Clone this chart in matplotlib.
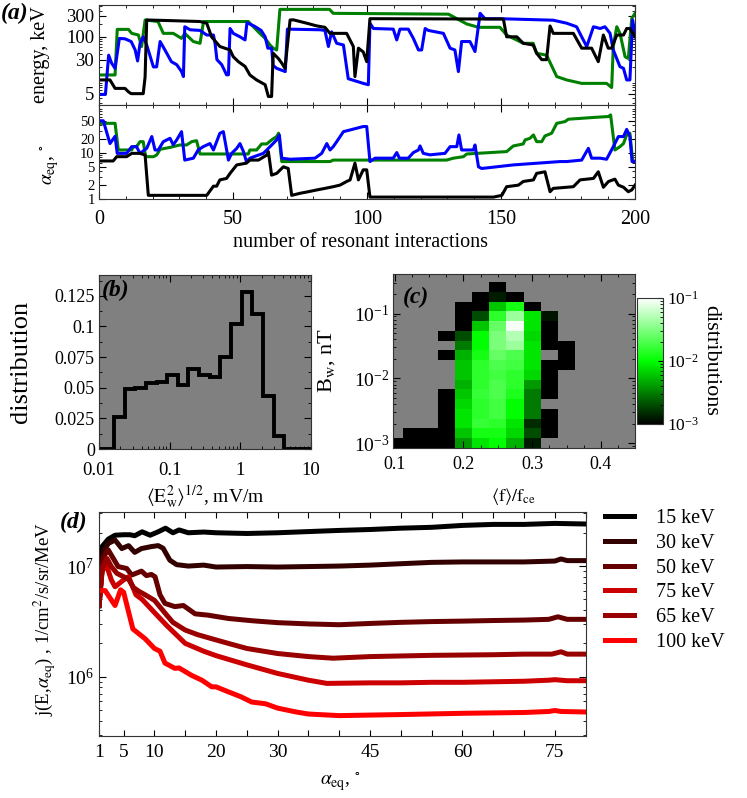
import numpy as np
import matplotlib
matplotlib.use("Agg")
import matplotlib.pyplot as plt
from matplotlib.colors import LogNorm, LinearSegmentedColormap
from matplotlib.ticker import FixedLocator, MultipleLocator, LogLocator, NullFormatter, FuncFormatter

plt.rcParams["font.family"] = ["Liberation Serif", "DejaVu Serif"]
plt.rcParams["mathtext.fontset"] = "stix"
plt.rcParams["font.size"] = 11

# ---- panel (a): energy / pitch angle along three trajectories ----
blue_n_E = [0, 2.4, 3.6, 4.7, 6, 7.6, 9.7, 12, 13.5, 14.4, 15.3, 16.5, 17.8, 20.3, 21.5, 22.8, 24.6, 27, 29,
            30.8, 31.5, 32, 34, 37.7, 40.2, 42.7, 43.3, 44, 45.8, 47.6, 48.3, 48.9, 50.1, 52.6, 54.5, 55.2, 58,
            60.5, 62, 63, 64.4, 65, 66.3, 69.5, 70.3, 82.5, 84.3, 85.6, 86.8, 88.7, 91.2, 93, 98.6, 100.5,
            101.1, 102.4, 109.8, 111.1, 112.3, 115.4, 117.3, 119.2, 120.4, 121.7, 122.9, 128.5, 131, 132.8,
            134.1, 135.3, 138.4, 140.3, 142.2, 144, 149.6, 169.5, 174.5, 178.2, 180.1, 182, 184.5, 187, 188.8,
            190.7, 191.9, 194.4, 195.7, 196.9, 198.1, 199.1, 200]
blue_E = [4.8, 4.8, 38, 25, 19, 92, 90, 78, 50, 28, 70, 100, 65, 20.5, 20.5, 78, 50, 27, 23,
          16, 12.3, 170, 145, 140, 110, 110, 71, 30, 23, 13.5, 13.5, 155, 120, 100, 85, 210, 175,
          140, 100, 55, 55, 22, 19, 16, 150, 145, 140, 60, 130, 71, 65, 11, 8.6, 8,
          205, 155, 150, 85, 150, 150, 92, 50, 50, 155, 140, 120, 55, 50,
          16, 78, 78, 46, 345, 260, 260, 240, 205, 170, 100, 60, 170, 155, 170,
          120, 50, 20.7, 19, 10.3, 10.3, 243, 120]

green_n_E = [0, 6, 6.8, 11, 12.2, 14.7, 15.9, 17.2, 22, 24, 27.7, 30.8, 32, 35.2, 37.7, 39, 55.7, 57.6, 60,
             62, 63.8, 65, 66.3, 67.5, 86, 87.4, 130.4, 137.2, 141.6, 149.6, 152.1, 158.3, 162, 163.3, 167,
             170.8, 174.5, 180.1, 189.4, 191.3, 191.9, 193.2, 194.4, 196.3, 197.5, 198.8, 200]
green_E = [13.4, 13.4, 148, 148, 120, 110, 60, 243, 224, 120, 120, 92, 120, 78, 71, 224, 224, 170, 120,
           92, 65, 55, 50, 425, 425, 345, 330, 197, 165, 165, 110, 71, 71, 42, 38,
           12.3, 10.3, 8.6, 8.6, 6.9, 60, 170, 120, 35, 32, 265, 345]

black_n_E = [0, 4.1, 6, 9.7, 11, 12, 16.5, 17.2, 17.8, 26.5, 37.7, 40.2, 42, 45.1, 48.9, 50.1, 52, 54.5,
             56.3, 58.8, 62, 63.2, 64.4, 65, 66.9, 68.2, 69.4, 71.3, 72.5, 77.5, 81.2, 84.3, 86.2, 92.4,
             94.9, 95.5, 96.8, 98.6, 99.9, 101.1, 150.9, 152.1, 155.9, 158.3, 162, 163.3, 165.2, 167, 168.3,
             169.5, 177, 180.1, 183.8, 186.3, 188.2, 190, 191.3, 193.2, 195.7, 196.9, 198.1, 200]
black_E = [10.3, 10.3, 6.6, 6.6, 5.5, 5, 5, 12, 243, 235, 224, 205, 100, 60, 50, 35, 27, 21,
           13.4, 10.3, 8, 4.3, 4.3, 42, 32, 25, 19, 243, 245, 205, 178, 165, 120, 120,
           60, 12.3, 55, 45, 27, 260, 255, 100, 100, 71, 65, 42, 30, 30, 177,
           120, 120, 55, 55, 27, 110, 55, 55, 110, 110, 155, 155, 100]

blue_n_a = [0, 1.6, 4.1, 6, 6.8, 10.3, 12.2, 14, 15.3, 17.8, 19.7, 20.9, 22.1, 24, 26.5, 27.7, 29, 30.8, 32,
            35.2, 37, 38.9, 41.4, 42.7, 45.1, 46.4, 48.3, 49.5, 51.4, 52.6, 53.9, 55, 56.3, 61.3, 62.6, 66.3,
            67.3, 68.2, 71.3, 80.6, 83.1, 85, 86.2, 87.4, 88.7, 91.2, 93.7, 98.6, 99.9, 101.1, 103, 109.8,
            111.1, 112.1, 115.4, 117.3, 119.2, 119.8, 121, 123.5, 129.1, 131, 133.5, 134.3, 135.3, 139.7,
            140.3, 141.6, 142.8, 154.6, 172, 174.5, 180.1, 182.6, 183.8, 187, 189.4, 191.9, 193.8, 195.7,
            196.9, 198.1, 198.9, 200]
blue_a = [50, 50, 16, 23, 9.8, 9.8, 13.7, 13.7, 9.8, 12.6, 22.7, 11.6, 11.6, 17.6, 20.8, 15, 19.2, 29, 7,
          7.7, 11.6, 13.7, 16, 11.6, 26.8, 29, 7, 9.8, 12.6, 16, 10.7, 6.5, 7.7, 9.8, 11.6, 19.2,
          24.6, 7.7, 7.3, 7.7, 9.8, 16, 11.6, 13.7, 17.6, 29, 31.6, 37.5, 37.5, 6.5, 7.7, 7.7,
          10.2, 7.7, 7.7, 10.2, 11.6, 14.2, 9.8, 9.1, 9.8, 13.7, 13.7, 24.6, 11.6, 11.6,
          14.9, 5.0, 4.6, 5.5, 6.5, 6.5, 7, 12.6, 7.7, 7.7, 7.3, 13.7, 22.7, 22.7,
          32.5, 22.7, 6.5, 6.5]

green_n_a = [0, 6, 7.2, 12.2, 12.8, 14, 15.3, 16.5, 17.4, 20.3, 21.5, 22.8, 26.5, 30.2, 32.7, 34.6, 36.4,
             37.7, 55.7, 56.3, 58.8, 60.7, 62.6, 64.4, 66.3, 67, 68.2, 86.2, 87.4, 129.7, 132.2, 136, 137.2,
             152.1, 154.6, 158.3, 159, 160.8, 162.1, 163.3, 165.2, 166.4, 168.9, 170.8, 173.9, 175.1, 184.5,
             190.1, 190.9, 192.5, 194.4, 195.7, 196.9, 198.1, 199.1, 200]
green_a = [44, 44, 11.6, 11.6, 13.7, 13.7, 17.6, 17.6, 8.3, 8.3, 9, 12, 13.2, 14.9, 14.9, 17.6, 18.5,
           9.5, 9.5, 11.6, 11.6, 15.7, 15.7, 19.2, 22.7, 26.8, 6.5, 6.5, 7, 7, 7.7, 8.3, 9.5,
           10.7, 14.2, 15.7, 19.2, 20.8, 24.6, 17.6, 17.6, 23.4, 26.8, 44, 48, 54, 59,
           61.8, 67, 11.6, 13.7, 16, 24.6, 26.8, 7, 6.5]

black_n_a = [0, 5.3, 6.6, 10.3, 12.2, 15.3, 17.2, 18.4, 40.2, 42.7, 43.9, 45.1, 47.6, 48.9, 51.4, 55, 56.3,
             59.5, 62.6, 63.2, 64.4, 66.3, 68.8, 70.6, 71.9, 75, 78.1, 81.2, 84.3, 87.4, 89.9, 92.4, 93.7,
             95.5, 96.8, 98.6, 99.9, 101.1, 147.2, 150.3, 152.1, 156.5, 158.3, 162.1, 163.3, 166.4, 168.3,
             169.5, 177, 179.5, 184.5, 186.3, 188.2, 190.1, 192.5, 193.8, 195.7, 197.5, 198.8, 200]
black_a = [6.7, 6.7, 8.3, 8.3, 9.8, 9.8, 9, 1.2, 1.2, 1.9, 1.9, 2.6, 2.8, 3.6, 5.5, 6, 7,
           7, 9, 10.7, 3.3, 3.6, 5.0, 4.6, 1.2, 1.33, 1.44, 1.57, 1.7, 1.85, 2.0, 2.4, 2.6,
           6, 2.6, 4.3, 4.3, 1.1, 1.1, 1.2, 1.85, 2.0, 2.4, 2.6, 3.6, 3.9, 1.44,
           1.7, 1.85, 2.6, 2.8, 3.9, 1.8, 2.4, 2.7, 2.0, 1.8, 1.44, 1.57, 2.0]

# ---- panel (b): wave amplitude distribution ----
ew_edges = [0.01, 0.0163, 0.0231, 0.0326, 0.0461, 0.0652, 0.0922, 0.1304, 0.1844, 0.2608, 0.3688,
            0.5216, 0.7376, 1.043, 1.475, 2.086, 2.95, 4.17, 10.0]
ew_dist = [0.0, 0.026, 0.049, 0.050, 0.054, 0.055, 0.060, 0.052, 0.065, 0.060, 0.059,
           0.075, 0.102, 0.128, 0.110, 0.043, 0.011, 0.0]

# ---- panel (c): (f/fce, Bw) distribution, NaN = empty ----
N = np.nan
f_centers = [0.1, 0.125, 0.15, 0.175, 0.2, 0.225, 0.25, 0.275, 0.3, 0.325, 0.35]
bw_centers = [1e-3 * 2 ** (k / 2) for k in range(17)]
fb_dist = [
    [1e-3, 1e-3, 1e-3, 1e-3, 4e-3, 8e-3, 1e-2, 5e-3, 1.3e-3, N, N],
    [N, 1e-3, 1e-3, 1e-3, 6e-3, 1.2e-2, 1.2e-2, 7e-3, 2e-3, 1e-3, N],
    [N, N, N, 1e-3, 8e-3, 1.6e-2, 1.5e-2, 8e-3, 1.5e-3, 1e-3, N],
    [N, N, N, 1e-3, 8e-3, 1.5e-2, 1.8e-2, 1e-2, 3e-3, 1e-3, N],
    [N, N, N, 1e-3, 7e-3, 1.5e-2, 1.8e-2, 1e-2, 3e-3, N, N],
    [N, N, N, 1e-3, 6e-3, 1.6e-2, 2e-2, 1.3e-2, 3e-3, 1e-3, N],
    [N, N, N, N, 5e-3, 1.5e-2, 2e-2, 1.5e-2, 4e-3, 1e-3, N],
    [N, N, N, N, 6e-3, 1.5e-2, 1.8e-2, 1.5e-2, 7e-3, 1e-3, N],
    [N, N, N, N, 6e-3, 1.5e-2, 2e-2, 1.8e-2, 8e-3, 1e-3, 1e-3],
    [N, N, N, 1e-3, 5e-3, 1.2e-2, 2.5e-2, 2e-2, 8e-3, N, 1e-3],
    [N, N, N, N, 3e-3, 1e-2, 3e-2, 4e-2, 8e-3, 1e-3, 1e-3],
    [N, N, N, 1e-3, 2e-3, 1e-2, 3e-2, 5e-2, 7e-3, 1e-3, N],
    [N, N, N, N, 1e-3, 6e-3, 2.5e-2, 9e-2, 8e-3, 1e-3, N],
    [N, N, N, N, 1e-3, 2e-3, 1.5e-2, 4e-2, 8e-3, 1.2e-3, N],
    [N, N, N, N, 1e-3, 1e-3, 6e-3, 1.2e-2, 1e-3, N, N],
    [N, N, N, N, N, 1e-3, 1.3e-3, 1e-3, N, N, N],
    [N, N, N, N, N, N, 1e-3, N, N, N, N],
]

# ---- panel (d): pitch-angle distributions ----
energies = ["15 keV", "30 keV", "50 keV", "75 keV", "65 keV", "100 keV"]
e_colors = ["#000000", "#330000", "#660000", "#cc0000", "#990000", "#ff0000"]
a15 = [1, 1.5, 2.5, 3.6, 5, 6, 6.8, 8, 9.3, 10.6, 11.8, 13, 14, 15.5, 18, 20, 25, 30, 35, 40, 45, 50, 55,
       60, 65, 70, 75, 80]
j15 = [4.4e6, 1.5e7, 1.75e7, 1.9e7, 1.92e7, 1.92e7, 1.88e7, 2.04e7, 1.9e7, 2.04e7, 2.2e7, 2.0e7, 2.12e7,
       2.0e7, 2.03e7, 2.0e7, 1.97e7, 2.0e7, 2.05e7, 2.1e7, 2.14e7, 2.2e7, 2.24e7, 2.33e7, 2.38e7, 2.38e7,
       2.43e7, 2.4e7]
a30 = [1, 1.7, 2.5, 3.6, 4.7, 5.8, 6.8, 7.9, 9.5, 10.6, 11.4, 12.5, 13.6, 15.5, 18, 20, 25, 30, 35, 40, 45,
       50, 55, 60, 65, 70, 75, 76, 77, 80]
j30 = [4.4e6, 1.35e7, 1.6e7, 1.72e7, 1.44e7, 1.53e7, 1.33e7, 1.44e7, 1.5e7, 1.53e7, 1.45e7, 1.13e7,
       1.03e7, 1.0e7, 1.02e7, 0.98e7, 0.99e7, 0.98e7, 0.99e7, 1.0e7, 1.02e7, 1.05e7, 1.08e7, 1.09e7, 1.09e7,
       1.09e7, 1.11e7, 1.16e7, 1.12e7, 1.12e7]
a50 = [1, 1.7, 2.5, 4.1, 5.5, 6.3, 7.9, 8.7, 9.5, 10.1, 10.9, 11.7, 13.3, 14.7, 16.6, 18.7, 22, 26, 30, 35,
       40, 45, 50, 55, 60, 65, 70, 74, 75.5, 77, 80]
j50 = [4.4e6, 1.21e7, 1.4e7, 9.9e6, 9.5e6, 8.3e6, 9e6, 8.2e6, 8.4e6, 8e6, 5.5e6, 4.6e6, 4.3e6, 4.4e6,
       3.7e6, 3.6e6, 3.36e6, 3.2e6, 3.08e6, 3.0e6, 2.95e6, 3.03e6, 3.1e6, 3.15e6, 3.18e6, 3.22e6, 3.25e6,
       3.3e6, 3.48e6, 3.3e6, 3.3e6]
a75 = [1, 1.5, 2.2, 3, 3.6, 5, 5.8, 7, 8, 10, 12, 15, 18, 20, 25, 30, 35, 38, 45, 50, 55, 60, 65, 70, 74,
       75, 77, 80]
j75 = [4.4e6, 9e6, 1.02e7, 7.5e6, 6.5e6, 7.5e6, 8e6, 5.5e6, 5e6, 3.8e6, 2.9e6, 2e6, 1.7e6, 1.55e6,
       1.28e6, 1.07e6, 9.3e5, 8.7e5, 8.8e5, 8.8e5, 8.9e5, 8.9e5, 9e5, 9.1e5, 9.3e5, 9.4e5, 9.2e5, 9.2e5]
a65 = [1, 1.5, 2.3, 3, 3.9, 5, 5.8, 6.6, 7.5, 8.5, 10, 11, 12, 13, 15, 17, 20, 22, 25, 30, 35, 39, 45, 50,
       55, 60, 65, 70, 74.5, 76, 77, 80]
j65 = [4.4e6, 9.5e6, 1.17e7, 9.9e6, 8.6e6, 8.0e6, 7.6e6, 6.4e6, 5.9e6, 5.5e6, 4.9e6, 4.2e6, 3.6e6,
       3.1e6, 2.64e6, 2.4e6, 2.15e6, 2.0e6, 1.8e6, 1.62e6, 1.52e6, 1.47e6, 1.52e6, 1.54e6, 1.56e6, 1.57e6,
       1.58e6, 1.6e6, 1.6e6, 1.68e6, 1.6e6, 1.6e6]
a100 = [1, 2, 3.6, 4.5, 5, 6.5, 8.5, 10, 10.9, 11.7, 13.3, 14, 16, 17.7, 19.3, 20, 22, 24, 25.8, 28, 30, 33,
        35, 40, 45, 50, 60, 70, 74, 75, 76, 80]
j100 = [6e6, 6e6, 4.4e6, 6.1e6, 5.8e6, 2.7e6, 2.2e6, 1.8e6, 1.7e6, 1.33e6, 1.19e6, 1.2e6, 1.03e6, 9.3e5,
        8.1e5, 8.1e5, 7.3e5, 6.6e5, 5.9e5, 5.7e5, 5.2e5, 4.8e5, 4.6e5, 4.45e5, 4.5e5, 4.55e5, 4.67e5,
        4.75e5, 4.85e5, 4.95e5, 4.85e5, 4.8e5]
d_alpha = [a15, a30, a50, a75, a65, a100]
d_flux = [j15, j30, j50, j75, j65, j100]


def style_ticks(ax, size=10):
    ax.tick_params(which="both", direction="in", top=True, right=True, labelsize=size)
    ax.tick_params(which="major", length=5)
    ax.tick_params(which="minor", length=2.5)
    for s in ax.spines.values():
        s.set_color("#333333")


def gfmt(v, p):
    return f"{v:g}"


def place_ylabel(ax, text, xc, yc, size, rot=90):
    ax.set_ylabel(text, fontsize=size, rotation=rot, va="center", ha="center")
    ax.yaxis.set_label_coords(xc, yc)


def place_xlabel(ax, text, xc, yc, size):
    ax.set_xlabel(text, fontsize=size, va="center", ha="center")
    ax.xaxis.set_label_coords(xc, yc)


W, H = 747, 798
fig = plt.figure(figsize=(W / 100, H / 100), dpi=100)


def box(x0, y0, x1, y1):
    return [x0 / W, 1 - y1 / H, (x1 - x0) / W, (y1 - y0) / H]


# (a) top: energy
ax1 = fig.add_axes(box(99, 5, 635, 105))
ax1.plot(green_n_E, green_E, color="#008000", lw=2.2)
ax1.plot(blue_n_E, blue_E, color="#0000ff", lw=2.2)
ax1.plot(black_n_E, black_E, color="black", lw=2.2)
ax1.set_yscale("log")
ax1.set_xlim(0, 200)
ax1.set_ylim(2.75, 535)
ax1.yaxis.set_major_locator(FixedLocator([5, 30, 100, 300]))
ax1.yaxis.set_major_formatter(FuncFormatter(gfmt))
ax1.yaxis.set_minor_formatter(NullFormatter())
ax1.xaxis.set_major_locator(MultipleLocator(50))
ax1.xaxis.set_minor_locator(MultipleLocator(10))
ax1.set_xticklabels([])
style_ticks(ax1, 13.5)
place_ylabel(ax1, "energy, keV", -0.110, 0.5, 14.5)

# (a) bottom: pitch angle
ax2 = fig.add_axes(box(99, 105, 635, 199))
ax2.plot(green_n_a, green_a, color="#008000", lw=2.2)
ax2.plot(blue_n_a, blue_a, color="#0000ff", lw=2.2)
ax2.plot(black_n_a, black_a, color="black", lw=2.2)
ax2.set_yscale("log")
ax2.set_xlim(0, 200)
ax2.set_ylim(1, 110)
ax2.yaxis.set_major_locator(FixedLocator([1, 2, 5, 10, 20, 50]))
ax2.yaxis.set_major_formatter(FuncFormatter(gfmt))
ax2.yaxis.set_minor_formatter(NullFormatter())
ax2.xaxis.set_major_locator(MultipleLocator(50))
ax2.xaxis.set_minor_locator(MultipleLocator(10))
style_ticks(ax2, 10.5)
ax2.tick_params(axis="y", pad=3)
ax2.tick_params(axis="x", labelsize=14.5, pad=8)
place_ylabel(ax2, r"$\alpha_{\rm eq}$, $^{\circ}$", -0.092, 0.37, 14)
place_xlabel(ax2, "number of resonant interactions", 0.487, -0.468, 14.5)
fig.text(1 / W, 1 - 13 / H, "(a)", fontsize=17, fontweight="bold", style="italic", va="center")

# (b)
axb = fig.add_axes(box(99, 275, 311, 449))
axb.set_facecolor("#808080")
axb.stairs(ew_dist, ew_edges, color="black", lw=2.8)
axb.set_xscale("log")
axb.set_xlim(0.01, 10)
axb.set_ylim(0, 0.142)
axb.xaxis.set_major_formatter(FuncFormatter(gfmt))
axb.yaxis.set_major_locator(MultipleLocator(0.025))
axb.yaxis.set_minor_locator(MultipleLocator(0.0125))
axb.yaxis.set_major_formatter(FuncFormatter(gfmt))
style_ticks(axb, 13.5)
axb.tick_params(axis="y", labelsize=13, pad=3)
axb.tick_params(axis="x", pad=9)
place_ylabel(axb, "distribution", -0.368, 0.5, 19)
place_xlabel(axb, r"$\langle \mathrm{E_w^2}\rangle^{1/2}$, mV/m", 0.5, -0.276, 14)
axb.text(0.015, 0.97, "(b)", transform=axb.transAxes, fontsize=17, fontweight="bold",
         style="italic", va="top")

# (c)
axc = fig.add_axes(box(393.3, 274.5, 635.3, 448))
axc.set_facecolor("#808080")
f_edges = [f_centers[0] - 0.0125] + [c + 0.0125 for c in f_centers]
bw_edges = [b / 2 ** 0.25 for b in bw_centers] + [bw_centers[-1] * 2 ** 0.25]
cmap = LinearSegmentedColormap.from_list("kgw", ["#000000", "#00ff00", "#ffffff"])
mesh = axc.pcolormesh(f_edges, bw_edges, np.ma.masked_invalid(np.array(fb_dist)), cmap=cmap,
                      norm=LogNorm(vmin=1e-3, vmax=1e-1))
axc.set_yscale("log")
axc.set_xlim(0.098, 0.45)
axc.set_ylim(bw_edges[0], 0.4)
axc.xaxis.set_major_locator(FixedLocator([0.1, 0.2, 0.3, 0.4]))
axc.xaxis.set_minor_locator(MultipleLocator(0.025))
axc.xaxis.set_major_formatter(FuncFormatter(gfmt))
style_ticks(axc, 13)
axc.tick_params(axis="y", labelsize=14, pad=3)
axc.tick_params(axis="x", pad=6)
place_ylabel(axc, r"B$_\mathrm{w}$, nT", -0.274, 0.507, 16)
place_xlabel(axc, r"$\langle \mathrm{f}\rangle/\mathrm{f_{ce}}$", 0.495, -0.282, 13)
axc.text(0.04, 0.93, "(c)", transform=axc.transAxes, fontsize=17, fontweight="bold",
         style="italic", va="top")

cax = fig.add_axes(box(637.3, 298, 662.7, 424))
cb = fig.colorbar(mesh, cax=cax)
cb.set_ticks([1e-3, 1e-2, 1e-1])
cax.tick_params(which="both", direction="in", labelsize=12.5, pad=3)
cb.outline.set_edgecolor("#333333")
fig.text(711 / W, 1 - 360 / H, "distributions", rotation=270, fontsize=16, ha="center", va="center")

# (d)
axd = fig.add_axes(box(99, 511.7, 585.7, 735.7))
for a, j, c, lab in zip(d_alpha, d_flux, e_colors, energies):
    axd.plot(a, j, color=c, lw=3.6, label=lab)
axd.set_yscale("log")
axd.set_xlim(1, 80)
axd.set_ylim(2.93e5, 3.1e7)
axd.xaxis.set_major_locator(FixedLocator([1] + list(range(5, 81, 5))))
shown = {1, 5, 10, 20, 30, 45, 60, 75}
axd.xaxis.set_major_formatter(FuncFormatter(lambda v, p: f"{v:g}" if round(v) in shown else ""))
axd.yaxis.set_major_locator(LogLocator(base=10, numticks=10))
style_ticks(axd, 14)
axd.tick_params(axis="x", which="major", length=4, pad=6)
place_ylabel(axd, r"j(E,$\alpha_{\rm eq}$) , 1/cm$^2$/s/sr/MeV", -0.111, 0.521, 13.5)
place_xlabel(axd, r"$\alpha_{\rm eq}$, $^{\circ}$", 0.495, -0.205, 14)
fig.text(60 / W, 1 - 522 / H, "(d)", fontsize=17, fontweight="bold", style="italic", va="center")
fig.legend(loc="upper left", bbox_to_anchor=(587 / W, 1 - 491 / H), frameon=False, fontsize=14.5,
           handlelength=1.45, handletextpad=1.1, labelspacing=0.28)

fig.savefig("out.png", dpi=100)
